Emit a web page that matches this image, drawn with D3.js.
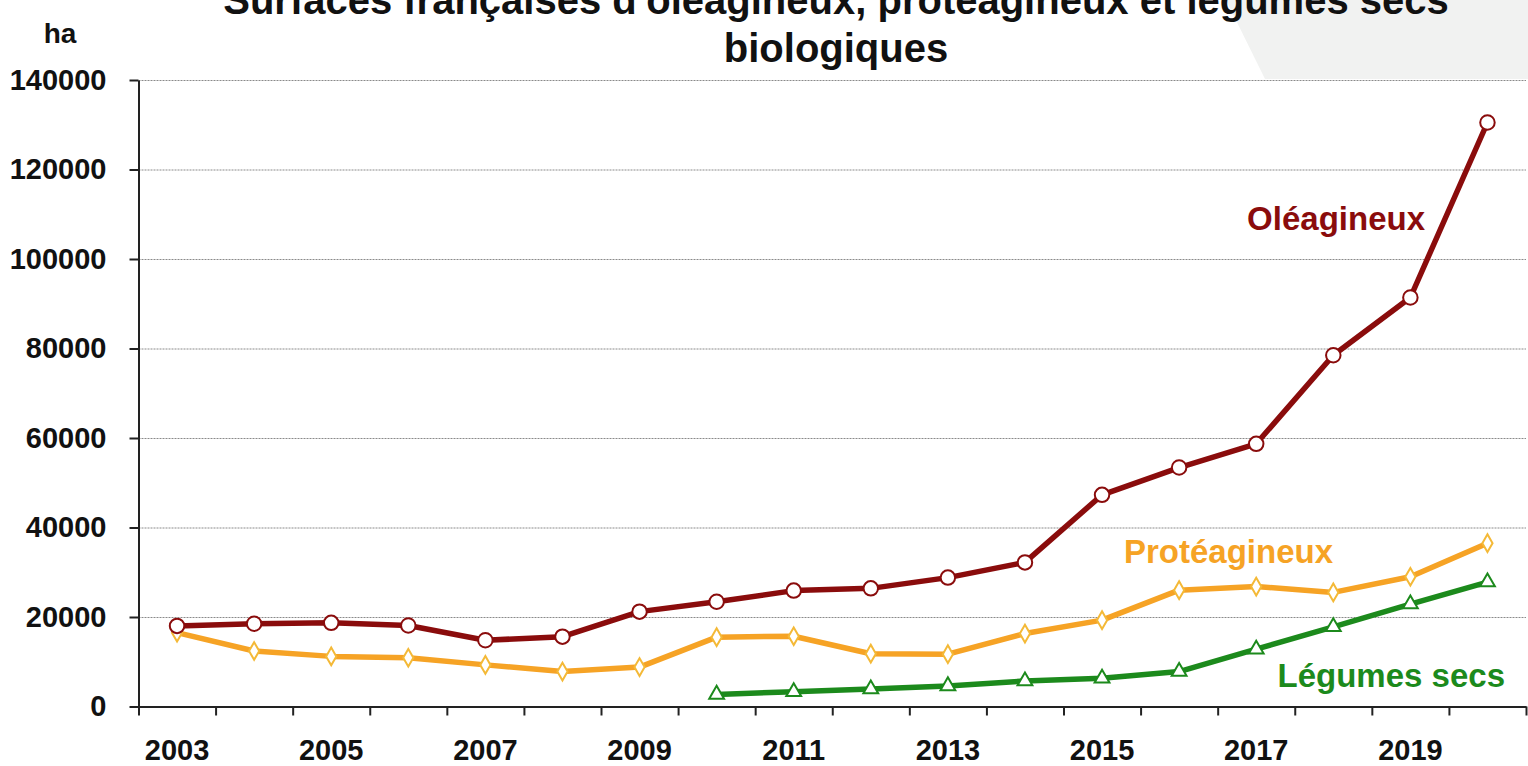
<!DOCTYPE html>
<html>
<head>
<meta charset="utf-8">
<script src="https://cdn.jsdelivr.net/npm/d3@7"></script>
<style>
    body { margin: 0; background: #fff; }
    text { font-family: "Liberation Sans", Arial, sans-serif; font-weight: bold; }
    .grid line { stroke: #8a8a8a; stroke-width: 1; stroke-dasharray: 2,1; }
    .grid .domain { display: none; }
    .axis path, .axis line { stroke: #222; stroke-width: 2; }
</style>
</head>
<body>
<div id="chart"></div>
<script>
// years on the x axis
var years = d3.range(2003, 2021);
var yearLabels = [2003, 2005, 2007, 2009, 2011, 2013, 2015, 2017, 2019];
var yTicks = [0, 20000, 40000, 60000, 80000, 100000, 120000, 140000];

// series values (ha)
var oleagineux = [18000, 18500, 18700, 18100, 14800, 15600, 21200, 23400, 25900, 26400, 28800, 32200, 47300, 53400, 58700, 78500, 91400, 130500];
var proteagineux = [16500, 12400, 11200, 10900, 9300, 7800, 8800, 15500, 15700, 11800, 11700, 16300, 19300, 26000, 26800, 25500, 29000, 36500];
var legumesYears = d3.range(2010, 2021);
var legumesSecs = [2700, 3300, 3900, 4600, 5700, 6300, 7800, 12800, 17800, 22900, 27800];

var width = 1528, height = 766;
var plot = {left: 138.5, right: 1526, top: 80, bottom: 706.5};

var svg = d3.select("#chart").append("svg")
    .attr("width", width)
    .attr("height", height);

// light grey shape in the top right corner
svg.append("polygon")
    .attr("points", "1226,0 1528,0 1528,79 1265,79")
    .attr("fill", "#f1f2f1");

// scales
var xScale = d3.scaleBand()
    .domain(years)
    .range([plot.left, plot.right]);
var xEdge = d3.scaleLinear()
    .domain([0, years.length])
    .range([plot.left, plot.right]);
var yScale = d3.scaleLinear()
    .domain([0, 140000])
    .range([plot.bottom, plot.top]);

function cx(y) { return xScale(y) + xScale.bandwidth() / 2; }

// grid lines
svg.append("g")
    .attr("class", "grid")
    .attr("transform", "translate(" + plot.left + ",0)")
    .call(d3.axisRight(yScale).tickValues(yTicks.slice(1)).tickSize(plot.right - plot.left).tickFormat(""));

// y axis
var yAxis = svg.append("g")
    .attr("class", "axis")
    .attr("transform", "translate(" + plot.left + ",0)")
    .call(d3.axisLeft(yScale).tickValues(yTicks).tickSize(9).tickSizeOuter(0).tickPadding(23).tickFormat(d3.format("d")));
yAxis.selectAll("text")
    .style("font-size", "29px")
    .attr("fill", "#111");

// x axis : ticks between the years
svg.append("g")
    .attr("class", "axis")
    .attr("transform", "translate(0," + plot.bottom + ")")
    .call(d3.axisBottom(xEdge).tickValues(d3.range(years.length + 1)).tickSize(9).tickSizeOuter(0).tickFormat(""));

var xAxis = svg.append("g")
    .attr("transform", "translate(0," + plot.bottom + ")")
    .call(d3.axisBottom(xScale).tickValues(yearLabels).tickSize(0).tickPadding(33));
xAxis.select(".domain").remove();
xAxis.selectAll("text")
    .style("font-size", "29px")
    .attr("fill", "#111");

// "ha" unit
svg.append("text")
    .attr("x", 60)
    .attr("y", 43)
    .attr("text-anchor", "middle")
    .style("font-size", "28px")
    .attr("fill", "#111")
    .text("ha");

// title (first line is cut at the top like in the original)
var title = svg.append("text")
    .attr("text-anchor", "middle")
    .style("font-size", "40px")
    .attr("fill", "#111");
title.append("tspan").attr("x", 836).attr("y", 14).text("Surfaces françaises d'oléagineux, protéagineux et légumes secs");
title.append("tspan").attr("x", 836).attr("y", 62).text("biologiques");

var line = d3.line()
    .x(function(d) { return cx(d.year); })
    .y(function(d) { return yScale(d.v); });

var series = [
    {name: "Oléagineux", years: years, values: oleagineux, color: "#8a0c0c", marker: "circle", lx: 1425, ly: 230},
    {name: "Protéagineux", years: years, values: proteagineux, color: "#f6a325", marker: "diamond", lx: 1333, ly: 563},
    {name: "Légumes secs", years: legumesYears, values: legumesSecs, color: "#1c8a1c", marker: "triangle", lx: 1505, ly: 687}
];

// draw the series, bottom one first
series.slice().reverse().forEach(function(s) {
    var pts = s.values.map(function(v, i) { return {year: s.years[i], v: v}; });

    svg.append("path")
        .datum(pts)
        .attr("fill", "none")
        .attr("stroke", s.color)
        .attr("stroke-width", 5.5)
        .attr("stroke-linejoin", "round")
        .attr("d", line);

    var sym = s.marker == "circle" ? d3.symbolCircle : (s.marker == "diamond" ? d3.symbolDiamond : d3.symbolTriangle);
    var size = s.marker == "circle" ? 165 : (s.marker == "diamond" ? 90 : 95);
    var stroke = s.marker == "diamond" ? "#f4b937" : s.color;

    svg.selectAll(".m-" + s.marker)
        .data(pts)
        .enter().append("path")
        .attr("class", "m-" + s.marker)
        .attr("transform", function(d) { return "translate(" + cx(d.year) + "," + yScale(d.v) + ")"; })
        .attr("d", d3.symbol().type(sym).size(size))
        .attr("fill", "#fff")
        .attr("stroke", stroke)
        .attr("stroke-width", 2);

    svg.append("text")
        .attr("x", s.lx)
        .attr("y", s.ly)
        .attr("text-anchor", "end")
        .style("font-size", "33px")
        .attr("fill", s.color)
        .text(s.name);
});
</script>
</body>
</html>
